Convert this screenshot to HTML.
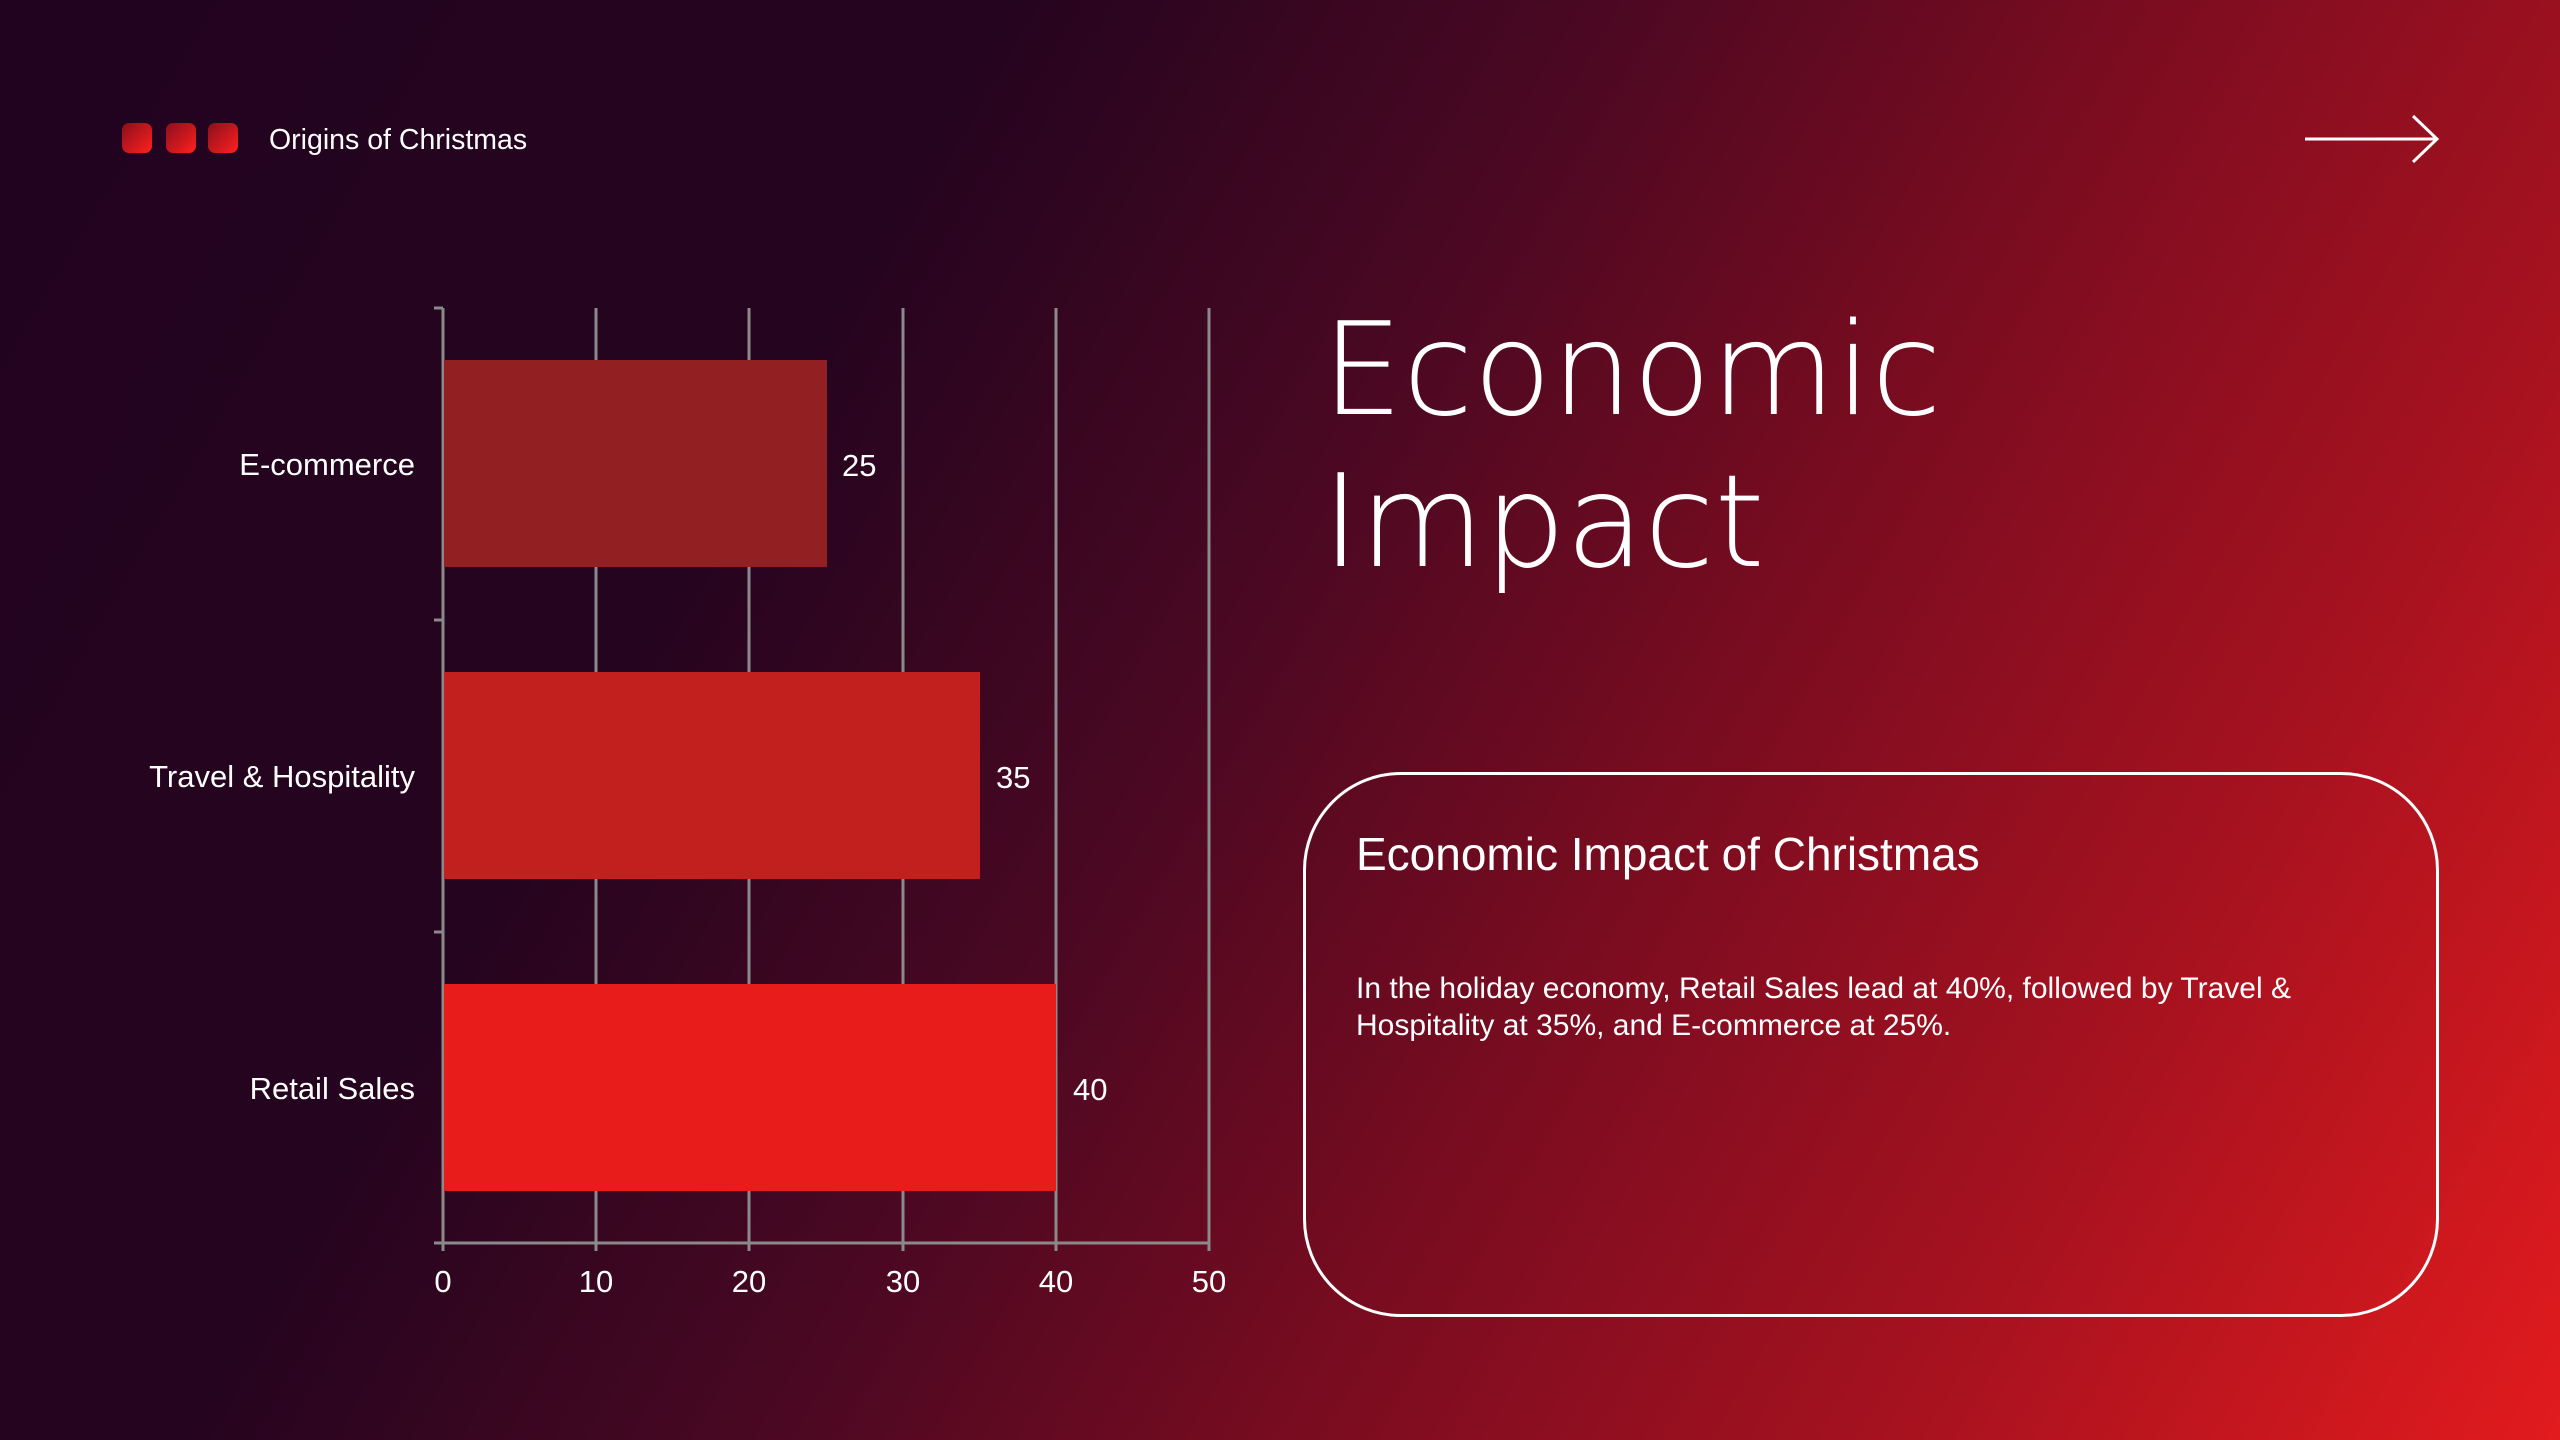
<!DOCTYPE html>
<html><head><meta charset="utf-8"><style>
html,body{margin:0;padding:0}
body{width:2560px;height:1440px;overflow:hidden;position:relative;font-family:"Liberation Sans",sans-serif;color:#fff;
background:linear-gradient(120deg,#22031f 0%,#25041f 30%,#4a0822 47%,#7a0c20 63%,#a8121f 81%,#e21b1e 100%);}
.sq{position:absolute;top:123px;width:30px;height:30px;border-radius:7px;background:linear-gradient(135deg,#8a0f1c,#ff2020)}
.abs{position:absolute;white-space:nowrap}
</style></head><body>
<div class="sq" style="left:122px"></div>
<div class="sq" style="left:166px"></div>
<div class="sq" style="left:208px"></div>
<div class="abs" style="left:269px;top:122px;font-size:28.5px;line-height:36px">Origins of Christmas</div>
<svg class="abs" style="left:2300px;top:110px" width="150" height="60"><path d="M5 29 H136 M113 6 L137 29 L113 52" stroke="#fff" stroke-width="3" fill="none"/></svg>

<svg class="abs" style="left:0;top:0" width="1300" height="1340" font-family="Liberation Sans, sans-serif" fill="#fff">
<g stroke="#8a8a8a" stroke-width="3">
<line x1="443" y1="308" x2="443" y2="1251"/>
<line x1="596" y1="308" x2="596" y2="1251"/>
<line x1="749" y1="308" x2="749" y2="1251"/>
<line x1="903" y1="308" x2="903" y2="1251"/>
<line x1="1056" y1="308" x2="1056" y2="1251"/>
<line x1="1209" y1="308" x2="1209" y2="1251"/>
<line x1="434" y1="1243" x2="1209" y2="1243"/>
<line x1="434" y1="308" x2="443" y2="308"/>
<line x1="434" y1="620" x2="443" y2="620"/>
<line x1="434" y1="932" x2="443" y2="932"/>
</g>
<rect x="444" y="360" width="383" height="207" fill="#922022"/>
<rect x="444" y="672" width="536" height="207" fill="#c21f1f"/>
<rect x="444" y="984" width="612" height="207" fill="#e91c1c"/>
<g font-size="31" text-anchor="end">
<text x="415" y="475">E-commerce</text>
<text x="415" y="787">Travel &amp; Hospitality</text>
<text x="415" y="1099">Retail Sales</text>
</g>
<g font-size="31">
<text x="842" y="476">25</text>
<text x="996" y="788">35</text>
<text x="1073" y="1100">40</text>
</g>
<g font-size="31" text-anchor="middle">
<text x="443" y="1292">0</text>
<text x="596" y="1292">10</text>
<text x="749" y="1292">20</text>
<text x="903" y="1292">30</text>
<text x="1056" y="1292">40</text>
<text x="1209" y="1292">50</text>
</g>
</svg>

<div class="abs" style="left:1322px;top:295px;font-size:128px;line-height:152px;font-family:'DejaVu Sans','Liberation Sans',sans-serif;font-weight:200">Economic<br>Impact</div>

<div class="abs" style="left:1303px;top:772px;width:1130px;height:539px;border:3px solid #fff;border-radius:98px"></div>
<div class="abs" style="left:1356px;top:826px;font-size:46px;line-height:56px">Economic Impact of Christmas</div>
<div class="abs" style="left:1356px;top:970px;width:1030px;font-size:30px;line-height:37px;white-space:normal">In the holiday economy, Retail Sales lead at 40%, followed by Travel &amp; Hospitality at 35%, and E-commerce at 25%.</div>
</body></html>
